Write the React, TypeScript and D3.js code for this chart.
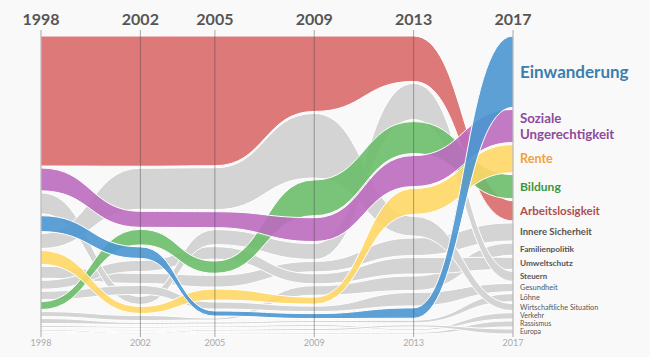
import React from 'react';
import * as d3 from 'd3';

const years = [1998, 2002, 2005, 2009, 2013, 2017];

const topics = [
  'Einwanderung', 'Soziale Ungerechtigkeit', 'Rente', 'Bildung', 'Arbeitslosigkeit',
  'Innere Sicherheit', 'Familienpolitik', 'Umweltschutz', 'Steuern', 'Gesundheit',
  'Löhne', 'Wirtschaftliche Situation', 'Verkehr', 'Rassismus', 'Europa',
];

// values per year (1998, 2002, 2005, 2009, 2013, 2017)
const einwanderung = [16, 11.5, 5, 5, 10, 71];
const sozialeUngerechtigkeit = [23, 16, 16, 24, 30, 33];
const rente = [14, 7, 11, 7, 25, 28];
const bildung = [8, 15.5, 12.2, 36, 31, 24];
const arbeitslosigkeit = [131, 130, 130, 76, 44, 20];
const innereSicherheit = [12, 10, 11.8, 10.5, 17, 18];
const familienpolitik = [5, 5, 2, 9.5, 14, 12.2];
const umweltschutz = [9, 11, 12.5, 10, 16, 12];
const steuern = [21, 8, 15, 16, 35, 10];
const gesundheit = [8.5, 9, 7, 5.5, 13, 8.2];
const loehne = [5, 2, 2, 2, 2.5, 8];
const wirtschaft = [15, 41, 42, 65, 19, 7];
const verkehr = [2, 1.5, 1.5, 2, 1.5, 6.2];
const rassismus = [1, 1, 1, 1.5, 1.5, 6];
const europa = [1.5, 1, 1.5, 2, 2, 5];

const valueLists = [
  einwanderung, sozialeUngerechtigkeit, rente, bildung, arbeitslosigkeit,
  innereSicherheit, familienpolitik, umweltschutz, steuern, gesundheit,
  loehne, wirtschaft, verkehr, rassismus, europa,
];

const highlightColors: Record<string, string> = {
  'Einwanderung': '#4a96d0',
  'Soziale Ungerechtigkeit': '#bd6cbf',
  'Rente': '#fed766',
  'Bildung': '#6cbe6c',
  'Arbeitslosigkeit': '#da6a6a',
};
const labelColors: Record<string, string> = {
  'Einwanderung': '#3a7fae',
  'Soziale Ungerechtigkeit': '#8e4a9c',
  'Rente': '#f2a23a',
  'Bildung': '#3c963c',
  'Arbeitslosigkeit': '#b04e4e',
};
const drawOrderHighlight = ['Arbeitslosigkeit', 'Bildung', 'Rente', 'Soziale Ungerechtigkeit', 'Einwanderung'];

export default function App() {
  const W = 650, H = 357;
  const x = d3.scaleLinear().domain([1998, 2017]).range([41, 513]);
  const yTop = 36, yBottom = 334, gap = 2;

  const series = topics.map((name, i) => ({
    name,
    values: valueLists[i],
    highlight: name in highlightColors,
  }));

  const layout = years.map((_, j) => {
    const sorted = [...series].sort((a, b) => b.values[j] - a.values[j]);
    const sum = d3.sum(series, s => s.values[j]);
    const k = d3.scaleLinear().domain([0, sum]).range([0, yBottom - yTop - gap * (series.length - 1)]);
    const pos = new Map<string, { y0: number; y1: number }>();
    let y = yTop;
    sorted.forEach(s => {
      const h = k(s.values[j]);
      pos.set(s.name, { y0: y, y1: y + h });
      y += h + gap;
    });
    return pos;
  });

  const area = d3.area<{ x: number; y0: number; y1: number }>()
    .x(d => d.x).y0(d => d.y1).y1(d => d.y0)
    .curve(d3.curveBumpX);

  const pts = (name: string) => years.map((yr, j) => ({ x: x(yr), ...layout[j].get(name)! }));

  const grays = series.filter(s => !s.highlight);
  const colored = drawOrderHighlight.map(n => series.find(s => s.name === n)!);

  const colFont = d3.scaleSqrt().domain([20, 71]).range([11.5, 17]);
  const grayFont = d3.scaleLinear().domain([5, 18]).range([6.8, 9.5]).clamp(true);
  const last = years.length - 1;

  // label positions: band centres, pushed down to keep a minimum spacing
  const labelYs = new Map<string, number>();
  const order = [...series].sort((a, b) => b.values[last] - a.values[last]);
  let prev = -Infinity;
  order.forEach(s => {
    const p = layout[last].get(s.name)!;
    const c = (p.y0 + p.y1) / 2;
    const y = Math.max(c, prev + (s.highlight ? 0 : 8));
    labelYs.set(s.name, y);
    prev = y;
  });

  return (
    <svg width={W} height={H} style={{ position: 'absolute', left: 0, top: 0, fontFamily: 'Lato, sans-serif' }}>
      <rect width={W} height={H} fill="#f9f9f9" />
      {grays.map(s => (
        <path key={s.name} d={area(pts(s.name))!} fill="#d4d4d4" stroke="#fff" strokeWidth={1} />
      ))}
      {colored.map(s => (
        <path key={s.name} d={area(pts(s.name))!} fill={highlightColors[s.name]} fillOpacity={0.9} stroke="#fff" strokeWidth={1} />
      ))}
      {years.map(yr => (
        <g key={yr}>
          <line x1={x(yr)} x2={x(yr)} y1={30} y2={337} stroke="#444" strokeOpacity={0.45} strokeWidth={1} />
          <text x={x(yr)} y={25} textAnchor="middle" fontSize={16} fontWeight={700} fill="#555">{yr}</text>
          <text x={x(yr)} y={346} textAnchor="middle" fontSize={9} fill="#aaa">{yr}</text>
        </g>
      ))}
      {series.map(s => {
        const cy = labelYs.get(s.name)!;
        const v = s.values[last];
        if (s.highlight) {
          const fs = colFont(v);
          const lines = s.name === 'Soziale Ungerechtigkeit' ? ['Soziale', 'Ungerechtigkeit'] : [s.name];
          const lh = fs * 1.2;
          return (
            <text key={s.name} x={520} fontSize={fs} fontWeight={700} fill={labelColors[s.name]}>
              {lines.map((l, i) => (
                <tspan key={i} x={520} y={cy + (i - (lines.length - 1) / 2) * lh} dy="0.35em">{l}</tspan>
              ))}
            </text>
          );
        }
        const fs = grayFont(v);
        return (
          <text key={s.name} x={520} y={cy} dy="0.35em" fontSize={fs} fontWeight={v >= 10 ? 700 : 400} fill="#555">{s.name}</text>
        );
      })}
    </svg>
  );
}
